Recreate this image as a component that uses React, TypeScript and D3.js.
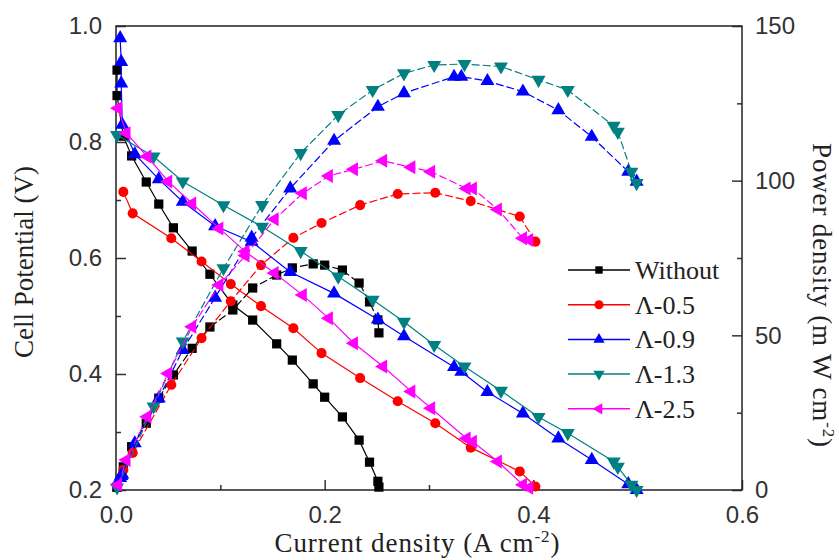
import React, { useEffect, useRef } from 'react';
import * as d3 from 'd3';

// series labels / colours / marker kinds
const seriesNames = ['Without', 'Λ-0.5', 'Λ-0.9', 'Λ-1.3', 'Λ-2.5'];
const seriesColors = ['#000000', '#ff0000', '#0000ff', '#008080', '#ff00ff'];
const seriesMarkers = ['square', 'circle', 'up', 'down', 'left'];

// current density (A cm-2), cell potential (V), power density (mW cm-2)
const withoutCurrent = [0.001, 0.001, 0.007, 0.015, 0.029, 0.041, 0.055, 0.073, 0.090, 0.112, 0.131, 0.154, 0.169, 0.189, 0.200, 0.217, 0.233, 0.243, 0.251, 0.252];
const withoutVoltage = [0.924, 0.880, 0.810, 0.776, 0.731, 0.693, 0.652, 0.612, 0.572, 0.519, 0.493, 0.452, 0.424, 0.383, 0.360, 0.326, 0.286, 0.248, 0.215, 0.205];
const withoutPower = [0.9, 0.9, 7.5, 14.0, 21.6, 29.7, 37.2, 45.8, 52.7, 58.2, 65.3, 69.5, 71.8, 73.1, 72.7, 71.1, 66.9, 60.8, 55.0, 50.8];

const l05Current = [0.007, 0.016, 0.053, 0.082, 0.110, 0.139, 0.170, 0.197, 0.234, 0.270, 0.306, 0.340, 0.387, 0.402];
const l05Voltage = [0.714, 0.677, 0.634, 0.594, 0.555, 0.517, 0.479, 0.436, 0.393, 0.353, 0.315, 0.273, 0.232, 0.206];
const l05Power = [6.5, 12.0, 34.0, 49.1, 61.0, 72.7, 81.5, 86.3, 92.1, 95.7, 96.1, 93.4, 88.4, 80.3];

const l09Current = [0.004, 0.005, 0.005, 0.006, 0.018, 0.041, 0.064, 0.095, 0.130, 0.167, 0.209, 0.251, 0.276, 0.324, 0.331, 0.356, 0.390, 0.424, 0.456, 0.491, 0.499];
const l09Voltage = [0.979, 0.938, 0.901, 0.830, 0.779, 0.736, 0.697, 0.655, 0.628, 0.576, 0.539, 0.494, 0.465, 0.412, 0.404, 0.369, 0.332, 0.289, 0.252, 0.210, 0.200];
const l09Power = [3.9, 4.7, 4.5, 5.0, 15.1, 29.6, 45.3, 62.2, 81.6, 97.5, 112.9, 123.9, 128.3, 133.6, 133.6, 132.2, 128.8, 122.8, 114.2, 102.9, 99.7];

const l13Current = [0.001, 0.036, 0.064, 0.103, 0.140, 0.177, 0.213, 0.246, 0.276, 0.305, 0.334, 0.369, 0.405, 0.433, 0.477, 0.481, 0.494, 0.499];
const l13Voltage = [0.812, 0.775, 0.732, 0.691, 0.654, 0.612, 0.568, 0.528, 0.490, 0.450, 0.413, 0.371, 0.326, 0.298, 0.249, 0.240, 0.209, 0.200];
const l13Power = [0.8, 27.0, 48.0, 71.7, 92.1, 108.9, 121.2, 129.3, 134.7, 137.4, 137.7, 136.9, 132.6, 129.3, 117.7, 115.8, 102.9, 99.2];

const l25Current = [0.002, 0.010, 0.030, 0.050, 0.073, 0.099, 0.124, 0.152, 0.179, 0.204, 0.228, 0.256, 0.283, 0.302, 0.336, 0.342, 0.366, 0.390, 0.396];
const l25Voltage = [0.858, 0.815, 0.775, 0.732, 0.694, 0.651, 0.611, 0.574, 0.536, 0.496, 0.453, 0.413, 0.370, 0.341, 0.289, 0.283, 0.249, 0.209, 0.204];
const l25Power = [1.6, 9.7, 23.7, 37.7, 52.8, 66.3, 75.8, 87.5, 95.9, 101.5, 103.7, 106.4, 104.3, 102.9, 97.5, 97.5, 90.7, 81.4, 80.8];

const currents = [withoutCurrent, l05Current, l09Current, l13Current, l25Current];
const voltages = [withoutVoltage, l05Voltage, l09Voltage, l13Voltage, l25Voltage];
const powers = [withoutPower, l05Power, l09Power, l13Power, l25Power];

const xTicks = [0, 0.2, 0.4, 0.6];
const xMinor = [0.1, 0.3, 0.5];
const vTicks = [0.2, 0.4, 0.6, 0.8, 1.0];
const vMinor = [0.3, 0.5, 0.7, 0.9];
const pTicks = [0, 50, 100, 150];
const pMinor = [25, 75, 125];

const tickFont = 'Arial, "Liberation Sans", sans-serif';
const titleFont = '"Times New Roman", "Liberation Serif", serif';

const markerPath = (kind: string, size: number) => {
  if (kind === 'square') return d3.symbol(d3.symbolSquare, size)();
  if (kind === 'circle') return d3.symbol(d3.symbolCircle, size)();
  return d3.symbol(d3.symbolTriangle, size)();
};
const markerRotate = (kind: string) => (kind === 'down' ? 180 : kind === 'left' ? -90 : 0);

const App = () => {
  const svgRef = useRef<SVGSVGElement>(null);

  useEffect(() => {
    const svg = d3.select(svgRef.current);
    svg.selectAll('*').remove();

    const x = d3.scaleLinear().domain([0, 0.6]).range([116, 742]);
    const yV = d3.scaleLinear().domain([0.2, 1.0]).range([490, 26]);
    const yP = d3.scaleLinear().domain([0, 150]).range([490, 26]);

    const styleAxis = (g: any) => {
      g.select('.domain').remove();
      g.selectAll('line').attr('stroke', '#333').attr('stroke-width', 1.5);
      g.selectAll('text').attr('font-family', tickFont).attr('font-size', 24).attr('fill', '#333');
    };

    // axes, ticks pointing inward
    svg.append('g').attr('transform', 'translate(0,490)')
      .call(d3.axisBottom(x).tickValues(xTicks).tickFormat(d3.format('.1f')).tickSize(-10).tickPadding(16))
      .call(styleAxis);
    svg.append('g').attr('transform', 'translate(0,490)')
      .call(d3.axisBottom(x).tickValues(xMinor).tickFormat(() => '').tickSize(-5))
      .call(styleAxis);
    svg.append('g').attr('transform', 'translate(116,0)')
      .call(d3.axisLeft(yV).tickValues(vTicks).tickFormat(d3.format('.1f')).tickSize(-10).tickPadding(14))
      .call(styleAxis);
    svg.append('g').attr('transform', 'translate(116,0)')
      .call(d3.axisLeft(yV).tickValues(vMinor).tickFormat(() => '').tickSize(-5))
      .call(styleAxis);
    svg.append('g').attr('transform', 'translate(742,0)')
      .call(d3.axisRight(yP).tickValues(pTicks).tickSize(-10).tickPadding(13))
      .call(styleAxis);
    svg.append('g').attr('transform', 'translate(742,0)')
      .call(d3.axisRight(yP).tickValues(pMinor).tickFormat(() => '').tickSize(-5))
      .call(styleAxis);

    svg.append('rect')
      .attr('x', 116).attr('y', 26).attr('width', 626).attr('height', 464)
      .attr('fill', 'none').attr('stroke', '#222').attr('stroke-width', 1.5);

    // curves: polarization solid, power dashed
    seriesNames.forEach((name, i) => {
      const color = seriesColors[i];
      const pol = currents[i].map((c, j) => [x(c), yV(voltages[i][j])] as [number, number]);
      const pow = currents[i].map((c, j) => [x(c), yP(powers[i][j])] as [number, number]);
      const line = d3.line();
      const g = svg.append('g').attr('class', 'series');
      g.append('path').attr('d', line(pol)).attr('fill', 'none').attr('stroke', color).attr('stroke-width', 1.2);
      g.append('path').attr('d', line(pow)).attr('fill', 'none').attr('stroke', color).attr('stroke-width', 1.2)
        .attr('stroke-dasharray', '8,3');
      const kind = seriesMarkers[i];
      const size = kind === 'square' ? 85 : kind === 'circle' ? 80 : 85;
      g.selectAll('.m').data([...pol, ...pow]).enter().append('path')
        .attr('d', markerPath(kind, size))
        .attr('transform', d => `translate(${d[0]},${d[1]}) rotate(${markerRotate(kind)})`)
        .attr('fill', color);
    });

    // legend
    const legend = svg.append('g');
    seriesNames.forEach((name, i) => {
      const ly = 270 + i * 34.7;
      const kind = seriesMarkers[i];
      legend.append('line').attr('x1', 568).attr('x2', 630).attr('y1', ly).attr('y2', ly)
        .attr('stroke', seriesColors[i]).attr('stroke-width', 1.5);
      legend.append('path').attr('d', markerPath(kind, kind === 'circle' ? 64 : 55))
        .attr('transform', `translate(599,${ly}) rotate(${markerRotate(kind)})`)
        .attr('fill', seriesColors[i]);
      legend.append('text').attr('x', 635).attr('y', ly + 9)
        .attr('font-family', titleFont).attr('font-size', 26).attr('fill', '#222')
        .text(name);
    });

    // axis titles
    const xt = svg.append('text').attr('x', 417).attr('y', 552).attr('text-anchor', 'middle')
      .attr('font-family', titleFont).attr('font-size', 27).attr('fill', '#222')
      .attr('textLength', 285).attr('lengthAdjust', 'spacing');
    xt.append('tspan').text('Current density (A cm');
    xt.append('tspan').attr('dy', -10).attr('font-size', 17).text('-2');
    xt.append('tspan').attr('dy', 10).text(')');

    svg.append('text').attr('transform', 'translate(33,262) rotate(-90)').attr('text-anchor', 'middle')
      .attr('font-family', titleFont).attr('font-size', 27).attr('fill', '#222')
      .text('Cell Potential (V)');

    const yt = svg.append('text').attr('transform', 'translate(813,295) rotate(90)').attr('text-anchor', 'middle')
      .attr('font-family', titleFont).attr('font-size', 27).attr('fill', '#222')
      .attr('textLength', 304).attr('lengthAdjust', 'spacing');
    yt.append('tspan').text('Power density (m W cm');
    yt.append('tspan').attr('dy', -10).attr('font-size', 17).text('-2');
    yt.append('tspan').attr('dy', 10).text(')');
  }, []);

  return (
    <svg ref={svgRef} width={839} height={560}
      style={{ position: 'absolute', left: 0, top: 0, background: '#fff', display: 'block' }} />
  );
};

export default App;
